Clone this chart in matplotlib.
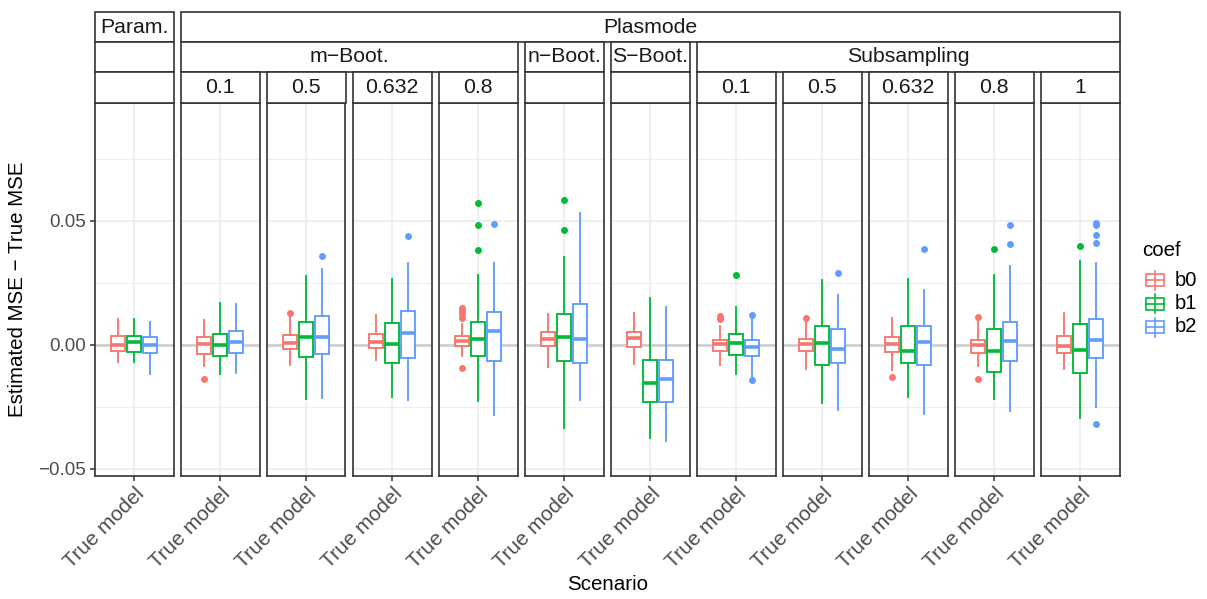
import matplotlib
matplotlib.use("Agg")
import matplotlib.pyplot as plt
from matplotlib.patches import Rectangle
from matplotlib.lines import Line2D

plt.rcParams['font.family'] = ['Liberation Sans', 'DejaVu Sans']

# ---------------- data ----------------
panels = ["Param.", "m0.1", "m0.5", "m0.632", "m0.8", "nBoot", "SBoot",
          "s0.1", "s0.5", "s0.632", "s0.8", "s1"]
coefs = ["b0", "b1", "b2"]
colors = ["#F8766D", "#00BA38", "#619CFF"]
x_label = "True model"
y_ticks = [-0.05, 0.0, 0.05]
y_tick_labels = ["\u22120.05", "0.00", "0.05"]

b0_lo = [-0.0071, -0.0086, -0.0083, -0.0060, -0.0044, -0.0091, -0.0079, -0.0083, -0.0099, -0.0102, -0.0088, -0.0099]
b0_q1 = [-0.0024, -0.0036, -0.0017, -0.0013, -0.0007, -0.0007, -0.0008, -0.0025, -0.0025, -0.0031, -0.0035, -0.0034]
b0_md = [0.0000, 0.0001, 0.0007, 0.0012, 0.0015, 0.0024, 0.0027, 0.0003, 0.0003, 0.0004, -0.0001, -0.0004]
b0_q3 = [0.0036, 0.0031, 0.0039, 0.0043, 0.0036, 0.0051, 0.0051, 0.0020, 0.0024, 0.0032, 0.0017, 0.0034]
b0_hi = [0.0102, 0.0099, 0.0115, 0.0118, 0.0085, 0.0122, 0.0126, 0.0075, 0.0096, 0.0106, 0.0095, 0.0126]
b0_out = [[], [-0.0138], [0.0127], [], [0.0146, 0.0135, 0.0125, 0.0106, -0.0095], [], [],
          [0.0115, 0.0105], [0.0109], [-0.0131], [0.0113, -0.0138], []]

b1_lo = [-0.0071, -0.0119, -0.0221, -0.0212, -0.0229, -0.0336, -0.0377, -0.0118, -0.0236, -0.0212, -0.0218, -0.0295]
b1_q1 = [-0.0028, -0.0044, -0.0048, -0.0076, -0.0044, -0.0068, -0.0233, -0.0040, -0.0084, -0.0075, -0.0109, -0.0113]
b1_md = [0.0009, -0.0003, 0.0032, 0.0004, 0.0021, 0.0032, -0.0155, 0.0008, 0.0005, -0.0024, -0.0025, -0.0021]
b1_q3 = [0.0036, 0.0043, 0.0091, 0.0086, 0.0092, 0.0122, -0.0062, 0.0043, 0.0076, 0.0074, 0.0062, 0.0084]
b1_hi = [0.0105, 0.0168, 0.0275, 0.0264, 0.0283, 0.0352, 0.0190, 0.0153, 0.0259, 0.0263, 0.0283, 0.0336]
b1_out = [[], [], [], [], [0.0572, 0.0481, 0.0383], [0.0584, 0.0464], [], [0.0280], [], [], [0.0387], [0.0398]]

b2_lo = [-0.0119, -0.0115, -0.0217, -0.0225, -0.0283, -0.0222, -0.0390, -0.0135, -0.0264, -0.0281, -0.0268, -0.0252]
b2_q1 = [-0.0032, -0.0035, -0.0039, -0.0055, -0.0068, -0.0075, -0.0233, -0.0044, -0.0076, -0.0084, -0.0064, -0.0055]
b2_md = [-0.0003, 0.0011, 0.0031, 0.0046, 0.0055, 0.0024, -0.0138, -0.0008, -0.0016, 0.0009, 0.0015, 0.0017]
b2_q3 = [0.0031, 0.0055, 0.0117, 0.0137, 0.0131, 0.0166, -0.0062, 0.0017, 0.0062, 0.0074, 0.0092, 0.0102]
b2_hi = [0.0090, 0.0166, 0.0307, 0.0328, 0.0330, 0.0532, 0.0150, 0.0113, 0.0202, 0.0222, 0.0318, 0.0328]
b2_out = [[], [], [0.0358], [0.0437], [0.0488], [], [], [0.0121, -0.0142], [0.0289],
          [0.0387], [0.0481, 0.0407], [0.0490, 0.0482, 0.0444, 0.0410, -0.0319]]

# strip rows: (label, first panel, last panel)
strip_row1 = [("Param.", 0, 0), ("Plasmode", 1, 11)]
strip_row2 = [("", 0, 0), ("m\u2212Boot.", 1, 4), ("n\u2212Boot.", 5, 5),
              ("S\u2212Boot.", 6, 6), ("Subsampling", 7, 11)]
strip_row3 = [("", 0, 0), ("0.1", 1, 1), ("0.5", 2, 2), ("0.632", 3, 3), ("0.8", 4, 4),
              ("", 5, 5), ("", 6, 6), ("0.1", 7, 7), ("0.5", 8, 8), ("0.632", 9, 9),
              ("0.8", 10, 10), ("1", 11, 11)]

stats_all = [
    (b0_lo, b0_q1, b0_md, b0_q3, b0_hi, b0_out),
    (b1_lo, b1_q1, b1_md, b1_q3, b1_hi, b1_out),
    (b2_lo, b2_q1, b2_md, b2_q3, b2_hi, b2_out),
]

# ---------------- layout ----------------
W, H = 1207, 599
fig = plt.figure(figsize=(W / 100, H / 100), dpi=100)

def fx(x):
    return x / W

def fy(y):
    return 1 - y / H

P_LEFT, P_PITCH, P_W = 95.0, 86.0, 78.5
P_TOP, P_BOT = 103.0, 476.0
ROWS = [(12.5, 42.0), (42.0, 72.0), (72.0, 103.0)]
BORDER = "#333333"
GRID = "#EBEBEB"

ylim = (-0.0530, 0.0975)
axes = []
for i, name in enumerate(panels):
    l = P_LEFT + i * P_PITCH
    ax = fig.add_axes([fx(l), fy(P_BOT), P_W / W, (P_BOT - P_TOP) / H])
    ax.set_xlim(0.4, 1.6)
    ax.set_ylim(*ylim)
    ax.set_facecolor("white")
    for v in [-0.025, 0.025, 0.075]:
        ax.axhline(v, color=GRID, lw=0.6, zorder=0)
    for v in y_ticks:
        ax.axhline(v, color=GRID, lw=1.2, zorder=0)
    ax.axvline(1, color=GRID, lw=1.2, zorder=0)
    ax.axhline(0, color="#D0D0D0", lw=2.0, zorder=0.5)
    for k, (lo, q1, md, q3, hi, out) in enumerate(stats_all):
        c = colors[k]
        st = [dict(med=md[i], q1=q1[i], q3=q3[i], whislo=lo[i], whishi=hi[i], fliers=out[i])]
        ax.bxp(st, positions=[1 + (k - 1) * 0.245], widths=0.22, patch_artist=True,
               showcaps=False, manage_ticks=False,
               boxprops=dict(facecolor="white", edgecolor=c, linewidth=1.35),
               whiskerprops=dict(color=c, linewidth=1.35),
               medianprops=dict(color=c, linewidth=2.6),
               flierprops=dict(marker="o", markerfacecolor=c, markeredgecolor="none",
                               markersize=5.0))
    for s in ax.spines.values():
        s.set_color(BORDER)
        s.set_linewidth(1.2)
        s.set_zorder(5)
    ax.set_xticks([1])
    ax.set_xticklabels([x_label], rotation=45, ha="right", va="top",
                       rotation_mode="anchor", fontsize=15, color="#4D4D4D")
    ax.tick_params(axis="x", length=3.5, width=1.1, color=BORDER, pad=2.5)
    if i == 0:
        ax.set_yticks(y_ticks)
        ax.set_yticklabels(y_tick_labels, fontsize=13.5, color="#4D4D4D")
        ax.tick_params(axis="y", length=3.5, width=1.1, color=BORDER, pad=3)
    else:
        ax.set_yticks([])
    axes.append(ax)

# strips
for (ytop, ybot), row in zip(ROWS, [strip_row1, strip_row2, strip_row3]):
    for label, a, b in row:
        x0 = P_LEFT + a * P_PITCH
        x1 = P_LEFT + b * P_PITCH + P_W
        fig.add_artist(Rectangle((fx(x0), fy(ybot)), (x1 - x0) / W, (ybot - ytop) / H,
                                 transform=fig.transFigure, facecolor="white",
                                 edgecolor=BORDER, linewidth=1.2))
        if label:
            fig.text(fx((x0 + x1) / 2), fy((ytop + ybot) / 2), label, ha="center",
                     va="center", fontsize=15.3, color="#1A1A1A")

# axis titles
fig.text(fx(P_LEFT + (11 * P_PITCH + P_W) / 2), fy(585), "Scenario", ha="center",
         va="center", fontsize=14.8, color="black")
fig.text(fx(18), fy((P_TOP + P_BOT) / 2), "Estimated MSE \u2212 True MSE", ha="center",
         va="center", rotation=90, fontsize=14.8, color="black")

# legend
fig.text(fx(1142), fy(250), "coef", ha="left", va="center", fontsize=14.8)
key_cx = 1154.5
for k, (name, c) in enumerate(zip(coefs, colors)):
    yc = 280 + k * 23.5
    fig.add_artist(Line2D([fx(key_cx), fx(key_cx)], [fy(yc - 9.5), fy(yc + 9.5)],
                          transform=fig.transFigure, color=c, lw=1.2))
    fig.add_artist(Rectangle((fx(key_cx - 9), fy(yc + 6)), 18 / W, 12 / H,
                             transform=fig.transFigure, facecolor="white",
                             edgecolor=c, linewidth=1.2))
    fig.add_artist(Line2D([fx(key_cx - 9), fx(key_cx + 9)], [fy(yc), fy(yc)],
                          transform=fig.transFigure, color=c, lw=1.2))
    fig.text(fx(1175), fy(yc), name, ha="left", va="center", fontsize=14.5)

fig.savefig("out.png", dpi=100, facecolor="white")
